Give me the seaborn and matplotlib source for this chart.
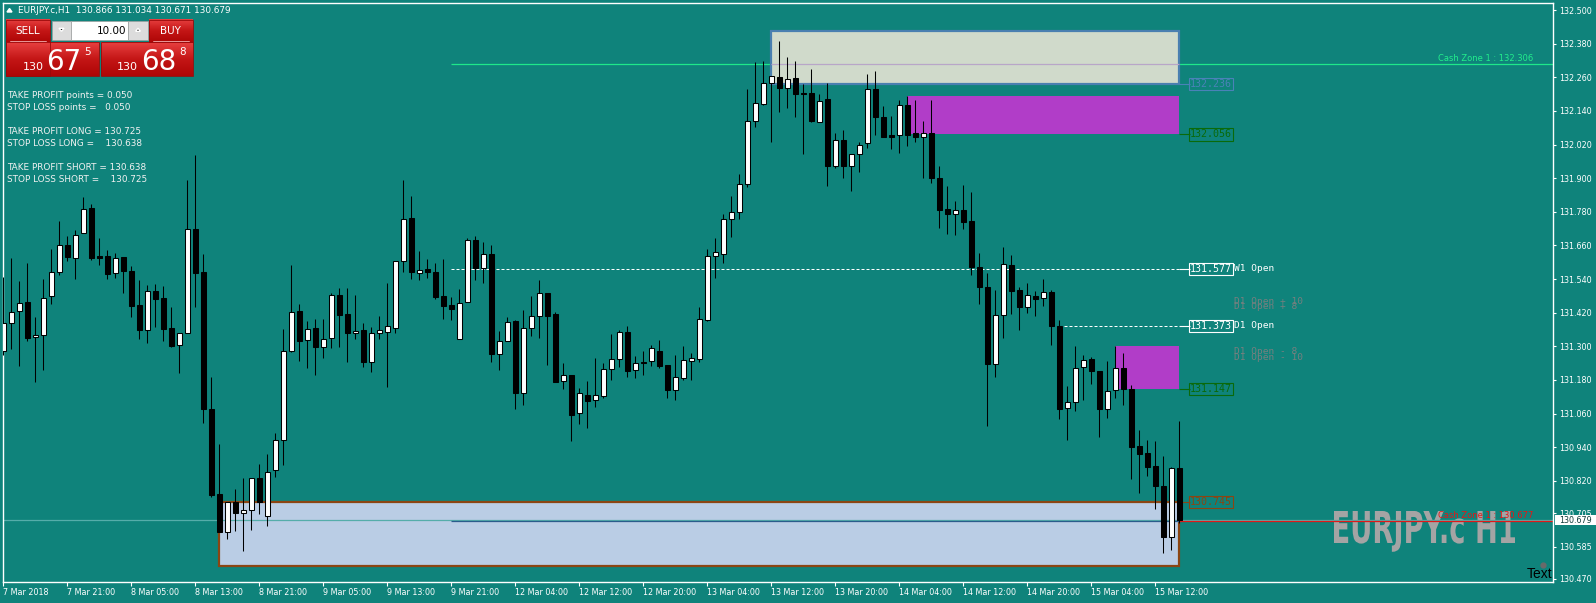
import numpy as np
import matplotlib
matplotlib.use("Agg")
import matplotlib.pyplot as plt
import seaborn as sns
from matplotlib.patches import Rectangle, PathPatch, Polygon
from matplotlib.textpath import TextPath
from matplotlib.font_manager import FontProperties
from matplotlib.transforms import Affine2D
from matplotlib.colors import LinearSegmentedColormap

symbol = "EURJPY.c"
period = "H1"

# hourly candles, 7 Mar 13:00 .. 15 Mar 15:00
open_ = [131.283, 131.385, 131.425, 131.457, 131.332, 131.342, 131.478, 131.564, 131.660, 131.617,
         131.706, 131.792, 131.621, 131.621, 131.560, 131.618, 131.568, 131.446, 131.360, 131.496,
         131.471, 131.364, 131.303, 131.346, 131.717, 131.564, 131.075, 130.772, 130.636, 130.743,
         130.704, 130.715, 130.829, 130.693, 130.857, 130.964, 131.285, 131.425, 131.321, 131.364,
         131.297, 131.328, 131.482, 131.415, 131.346, 131.357, 131.244, 131.346, 131.352, 131.364,
         131.603, 131.757, 131.562, 131.575, 131.565, 131.479, 131.447, 131.325, 131.457, 131.678,
         131.578, 131.631, 131.273, 131.320, 131.389, 131.134, 131.367, 131.407, 131.489, 131.414,
         131.175, 131.196, 131.061, 131.128, 131.107, 131.124, 131.218, 131.256, 131.350, 131.214,
         131.244, 131.248, 131.285, 131.235, 131.145, 131.188, 131.248, 131.256, 131.395, 131.624,
         131.631, 131.756, 131.778, 131.878, 132.103, 132.166, 132.238, 132.261, 132.223, 132.256,
         132.204, 132.204, 132.101, 132.182, 131.944, 132.036, 131.944, 131.985, 132.024, 132.220,
         132.118, 132.054, 132.053, 132.163, 132.060, 132.048, 132.060, 131.902, 131.790, 131.773,
         131.785, 131.746, 131.584, 131.511, 131.238, 131.411, 131.589, 131.500, 131.442, 131.480,
         131.472, 131.493, 131.374, 131.081, 131.100, 131.226, 131.254, 131.211, 131.078, 131.143,
         131.222, 131.147, 130.945, 130.920, 130.874, 130.802, 130.621, 130.866]
high = [131.548, 131.617, 131.533, 131.597, 131.405, 131.539, 131.647, 131.748, 131.693, 131.715,
        131.832, 131.807, 131.686, 131.644, 131.633, 131.620, 131.587, 131.536, 131.518, 131.521,
        131.517, 131.440, 131.346, 131.893, 131.982, 131.629, 131.189, 130.950, 130.746, 130.791,
        130.830, 130.831, 130.880, 130.916, 130.991, 131.361, 131.592, 131.451, 131.390, 131.397,
        131.397, 131.492, 131.507, 131.507, 131.483, 131.383, 131.370, 131.407, 131.526, 131.603,
        131.893, 131.836, 131.640, 131.611, 131.597, 131.611, 131.476, 131.504, 131.686, 131.693,
        131.672, 131.661, 131.354, 131.404, 131.394, 131.429, 131.479, 131.536, 131.492, 131.421,
        131.239, 131.196, 131.150, 131.176, 131.257, 131.239, 131.344, 131.357, 131.372, 131.264,
        131.283, 131.303, 131.321, 131.235, 131.269, 131.300, 131.275, 131.439, 131.649, 131.685,
        131.774, 131.838, 131.914, 132.220, 132.313, 132.320, 132.264, 132.389, 132.332, 132.320,
        132.236, 132.289, 132.202, 132.238, 132.061, 132.072, 131.985, 132.028, 132.271, 132.282,
        132.157, 132.122, 132.179, 132.193, 132.179, 132.104, 132.179, 131.943, 131.872, 131.819,
        131.876, 131.850, 131.633, 131.561, 131.501, 131.654, 131.626, 131.512, 131.526, 131.497,
        131.541, 131.500, 131.394, 131.158, 131.300, 131.268, 131.261, 131.211, 131.247, 131.300,
        131.275, 131.161, 131.001, 130.965, 130.962, 130.908, 130.869, 131.034]
low = [131.269, 131.290, 131.231, 131.320, 131.174, 131.216, 131.452, 131.554, 131.604, 131.541,
       131.703, 131.608, 131.591, 131.541, 131.545, 131.491, 131.405, 131.326, 131.313, 131.370,
       131.320, 131.298, 131.206, 131.346, 131.441, 131.027, 130.763, 130.636, 130.611, 130.642,
       130.571, 130.646, 130.700, 130.660, 130.835, 130.878, 131.281, 131.249, 131.222, 131.199,
       131.258, 131.295, 131.296, 131.245, 131.327, 131.227, 131.209, 131.327, 131.156, 131.346,
       131.566, 131.541, 131.537, 131.545, 131.470, 131.398, 131.394, 131.325, 131.457, 131.537,
       131.527, 131.245, 131.216, 131.320, 131.077, 131.092, 131.338, 131.331, 131.234, 131.174,
       131.149, 130.963, 131.024, 131.009, 131.084, 131.116, 131.181, 131.227, 131.191, 131.188,
       131.199, 131.231, 131.224, 131.116, 131.109, 131.181, 131.181, 131.245, 131.389, 131.545,
       131.596, 131.691, 131.756, 131.870, 132.084, 132.162, 132.030, 132.137, 132.150, 132.119,
       131.987, 132.101, 132.101, 131.873, 131.937, 131.902, 131.854, 131.923, 132.009, 132.054,
       132.048, 132.005, 131.991, 132.016, 132.030, 131.902, 131.884, 131.724, 131.701, 131.698,
       131.719, 131.555, 131.451, 131.016, 131.192, 131.331, 131.417, 131.360, 131.420, 131.410,
       131.445, 131.303, 131.042, 130.967, 131.071, 131.110, 131.167, 130.978, 131.046, 131.117,
       131.092, 130.825, 130.778, 130.839, 130.718, 130.561, 130.572, 130.671]
close = [131.385, 131.423, 131.455, 131.331, 131.339, 131.474, 131.564, 131.660, 131.620, 131.699,
         131.791, 131.616, 131.616, 131.559, 131.617, 131.570, 131.445, 131.359, 131.496, 131.470,
         131.363, 131.302, 131.346, 131.717, 131.562, 131.075, 130.771, 130.636, 130.746, 130.704,
         130.715, 130.831, 130.746, 130.850, 130.964, 131.285, 131.423, 131.320, 131.363, 131.296,
         131.327, 131.482, 131.413, 131.346, 131.353, 131.245, 131.346, 131.357, 131.371, 131.603,
         131.753, 131.566, 131.571, 131.566, 131.476, 131.445, 131.434, 131.453, 131.678, 131.578,
         131.631, 131.273, 131.320, 131.388, 131.134, 131.367, 131.407, 131.489, 131.410, 131.174,
         131.196, 131.056, 131.132, 131.106, 131.125, 131.218, 131.256, 131.350, 131.213, 131.239,
         131.242, 131.293, 131.231, 131.145, 131.191, 131.250, 131.257, 131.396, 131.624, 131.635,
         131.756, 131.778, 131.878, 132.103, 132.170, 132.238, 132.264, 132.221, 132.255, 132.201,
         132.201, 132.105, 132.177, 131.944, 132.038, 131.944, 131.985, 132.020, 132.220, 132.119,
         132.048, 132.048, 132.163, 132.055, 132.048, 132.060, 131.902, 131.788, 131.773, 131.785,
         131.745, 131.584, 131.510, 131.238, 131.411, 131.593, 131.499, 131.442, 131.482, 131.470,
         131.493, 131.374, 131.078, 131.100, 131.222, 131.253, 131.213, 131.078, 131.140, 131.222,
         131.146, 130.942, 130.917, 130.871, 130.800, 130.621, 130.865, 130.679]

time_labels = ["7 Mar 2018", "7 Mar 21:00", "8 Mar 05:00", "8 Mar 13:00", "8 Mar 21:00",
               "9 Mar 05:00", "9 Mar 13:00", "9 Mar 21:00", "12 Mar 04:00", "12 Mar 12:00",
               "12 Mar 20:00", "13 Mar 04:00", "13 Mar 12:00", "13 Mar 20:00", "14 Mar 04:00",
               "14 Mar 12:00", "14 Mar 20:00", "15 Mar 04:00", "15 Mar 12:00"]
label_step = 8

price_ticks = [132.500, 132.380, 132.260, 132.140, 132.020, 131.900, 131.780, 131.660, 131.540,
               131.420, 131.300, 131.180, 131.060, 130.940, 130.820, 130.705, 130.585, 130.470]

# supply / demand zones: start bar, top, bottom
zone_start = [96, 113, 139, 27]
zone_top = [132.425, 132.193, 131.301, 130.745]
zone_bottom = [132.236, 132.056, 131.147, 130.517]
zone_label = [132.236, 132.056, 131.147, 130.745]

cash_zone_up = 132.306
cash_zone_dn = 130.677
cash_start = 56
w1_open, w1_start = 131.577, 56
d1_open, d1_start = 131.373, 132
d1_offsets = [10, 8, -8, -10]

bid, ask = 130.675, 130.688
lot = 10.00
tp_points, sl_points = 0.050, 0.050
tp_long, sl_long = 130.725, 130.638
tp_short, sl_short = 130.638, 130.725

BG = "#0F837B"
sns.set_style("dark", rc={"axes.facecolor": BG, "figure.facecolor": BG,
                          "axes.edgecolor": "white", "xtick.color": "white",
                          "ytick.color": "white", "text.color": "white",
                          "axes.grid": False})
plt.rcParams["font.family"] = ["DejaVu Sans"]

W, H = 1596, 603
fig = plt.figure(figsize=(W / 100, H / 100), dpi=100)
ax = fig.add_axes([2.5 / W, (H - 582) / H, (1553 - 2.5) / W, (582 - 2.5) / H])

o, h, l, c = map(np.array, (open_, high, low, close))
n = len(c)
idx = np.arange(n)
last = n - 1
xmax = 193.7

# candles
ax.vlines(idx, l, h, color="black", lw=0.75, zorder=4)
lo, hi = np.minimum(o, c), np.maximum(o, c)
ht = np.maximum(hi - lo, 0.0025)
mid = (lo + hi) / 2
ax.bar(idx, ht, bottom=mid - ht / 2, width=0.58,
       color=np.where(c >= o, "white", "black"), edgecolor="black", linewidth=0.75, zorder=5)

# zones
zone_fc = ["#D0DACB", "#B13DC8", "#B13DC8", "#BACDE5"]
zone_ec = ["#4A7FB0", "none", "none", "#8B4513"]
for s, t, b, fc, ec in zip(zone_start, zone_top, zone_bottom, zone_fc, zone_ec):
    ax.add_patch(Rectangle((s, b), last - s, t - b, fc=fc, ec=ec, lw=1.6, zorder=1))

# cash zone lines
ax.hlines(cash_zone_up, cash_start, xmax, color="#1EE88A", lw=0.9, zorder=0.5)
ax.hlines(cash_zone_up, zone_start[0], last, color="#B8A6C8", lw=0.9, zorder=2)
ax.text(191.2, cash_zone_up + 0.004, f"Cash Zone 1 : {cash_zone_up:.3f}", color="#22EE8C",
        fontsize=6, ha="right", va="bottom", zorder=6)
ax.hlines(c[-1], 0, xmax, color="#55ADAA", lw=0.9, zorder=2)
ax.hlines(cash_zone_dn, cash_start, last, color="#2B5C8C", lw=0.9, zorder=2.1)
ax.hlines(cash_zone_dn, last, xmax, color="#E01818", lw=0.9, zorder=2.1)
ax.text(191.2, cash_zone_dn + 0.004, f"Cash Zone 1 : {cash_zone_dn:.3f}", color="#E81515",
        fontsize=6, ha="right", va="bottom", zorder=6)

# weekly / daily open
lab_x = 148.3
for val, start, name in [(w1_open, w1_start, "W1 Open"), (d1_open, d1_start, "D1 Open")]:
    ax.hlines(val, start, last, color="white", lw=0.72, linestyles=(0, (3, 2)), zorder=2)
    ax.hlines(val, last, lab_x, color="white", lw=0.8, zorder=2)
    ax.text(lab_x, val, f"{val:.3f}", color="white", fontsize=7.2, family="DejaVu Sans Mono",
            ha="left", va="center", zorder=6,
            bbox=dict(boxstyle="square,pad=0.12", fc="none", ec="white", lw=0.8))
    ax.text(153.8, val, name, color="white", fontsize=6.8, family="DejaVu Sans Mono",
            ha="left", va="center", zorder=6)
for off in d1_offsets:
    sign = "+" if off > 0 else "-"
    ax.text(153.8, d1_open + off / 100 - 0.012, f"D1 Open {sign} {abs(off)}", color="#76807F",
            fontsize=6.8, family="DejaVu Sans Mono", ha="left", va="center", zorder=6)

label_fc = ["#4A82B8", "#0A6A0A", "#0A6A0A", "#8B4513"]
for val, col in zip(zone_label, label_fc):
    ax.hlines(val, last, lab_x, color=col, lw=0.8, zorder=2)
    ax.text(lab_x, val, f"{val:.3f}", color=col, fontsize=7.2, family="DejaVu Sans Mono",
            ha="left", va="center", zorder=6,
            bbox=dict(boxstyle="square,pad=0.12", fc="none", ec=col, lw=0.8))

# watermark
fp = FontProperties(family="DejaVu Sans", weight="bold")
tp = TextPath((0, 0), f"{symbol} {period}", size=1, prop=fp)
cap = TextPath((0, 0), "E", size=1, prop=fp).get_extents()
bb = tp.get_extents()
sx = (1515 - 1334) / bb.width
sy = (543 - 511) / cap.height
tr = (Affine2D().translate(-bb.x0, 0).scale(sx, sy).translate(1334, H - 543)
      .scale(1 / W, 1 / H) + fig.transFigure)
ax.add_artist(PathPatch(tp, transform=tr, fc="#A4A4A4", ec="none", zorder=1.5))

# axes
ax.set_xlim(-0.125, xmax)
ax.set_ylim(130.459, 132.527)
for sp in ax.spines.values():
    sp.set_color("white")
    sp.set_linewidth(1)
ax.set_xticks(idx[::label_step][:len(time_labels)], labels=time_labels, ha="left")
ax.yaxis.tick_right()
ax.set_yticks(price_ticks, labels=[f"{v:.3f}" for v in price_ticks])
ax.tick_params(axis="x", bottom=True, direction="out", length=3, width=0.8, pad=1.5,
               labelsize=5.8, colors="white")
ax.tick_params(axis="y", right=True, left=False, direction="out", length=2.5, width=0.8,
               pad=2, labelsize=5.8, colors="white")

# current price tag
ytr = ax.get_yaxis_transform()
ax.add_patch(Rectangle((1.0012, c[-1] - 0.018), 0.03, 0.036, transform=ytr, fc="white",
                       ec="none", clip_on=False, zorder=6))
ax.text(1.004, c[-1], f"{c[-1]:.3f}", transform=ytr, color="#123C3A", fontsize=5.8,
        ha="left", va="center", clip_on=False, zorder=7)

# trade panel overlay (pixel coordinates)
ov = fig.add_axes([0, 0, 1, 1], zorder=10)
ov.axis("off")
red = LinearSegmentedColormap.from_list("red", ["#E84040", "#C41616", "#AE0606"])
grad = np.linspace(0, 1, 64).reshape(-1, 1)
for x0, y0, x1, y1 in [(6, 20, 49.5, 42.3), (6, 42.3, 99, 76), (149, 20, 192.7, 42.3),
                       (101, 42.3, 192.7, 76)]:
    ov.imshow(grad, extent=[x0, x1, y1, y0], cmap=red, aspect="auto", zorder=1)
ov.add_patch(Rectangle((6, 20), 43.5, 56, fill=False, ec="#9A0A0A", lw=0.6, zorder=2))
ov.add_patch(Rectangle((6, 42.3), 93, 33.7, fill=False, ec="#9A0A0A", lw=0.6, zorder=2))
ov.add_patch(Rectangle((101, 42.3), 91.7, 33.7, fill=False, ec="#9A0A0A", lw=0.6, zorder=2))
ov.add_patch(Rectangle((149, 20), 43.7, 22.3, fill=False, ec="#9A0A0A", lw=0.6, zorder=2))
ov.plot([10, 46], [41.3, 41.3], color="#F2B0B0", lw=0.6, zorder=3)
ov.plot([153, 189], [41.3, 41.3], color="#F2B0B0", lw=0.6, zorder=3)
ov.text(27.5, 31, "SELL", color="white", fontsize=7.5, ha="center", va="center", zorder=3)
ov.text(170, 31, "BUY", color="white", fontsize=7.5, ha="center", va="center", zorder=3)

ov.add_patch(Rectangle((51.7, 20.7), 19.3, 19.3, fc="#DCDCDC", ec="#A0A0A0", lw=0.5, zorder=2))
ov.add_patch(Rectangle((71, 20.7), 57.3, 19.3, fc="white", ec="#A0A0A0", lw=0.5, zorder=2))
ov.add_patch(Rectangle((128.3, 20.7), 19.4, 19.3, fc="#DCDCDC", ec="#A0A0A0", lw=0.5, zorder=2))
ov.add_patch(Polygon([(59, 28.3), (64, 28.3), (61.5, 31.3)], fc="black", zorder=3))
ov.add_patch(Polygon([(135.5, 31.3), (140.5, 31.3), (138, 28.3)], fc="black", zorder=3))
ov.text(126.5, 30.5, f"{lot:.2f}", color="black", fontsize=7.5, ha="right", va="center", zorder=3)

for price, xb, xm, xs in [(bid, 22.7, 46, 84.5), (ask, 116.7, 141, 179)]:
    s = f"{price:.3f}"
    ov.text(xb, 70, s[:3], color="white", fontsize=8, ha="left", va="baseline", zorder=3)
    ov.text(xm, 70, s[4:6], color="white", fontsize=20, ha="left", va="baseline", zorder=3)
    ov.text(xs, 55, s[6], color="white", fontsize=7.5, ha="left", va="baseline", zorder=3)

info = [f"TAKE PROFIT points = {tp_points:.3f}", f"STOP LOSS points =   {sl_points:.3f}", "",
        f"TAKE PROFIT LONG = {tp_long:.3f}", f"STOP LOSS LONG =    {sl_long:.3f}", "",
        f"TAKE PROFIT SHORT = {tp_short:.3f}", f"STOP LOSS SHORT =    {sl_short:.3f}"]
for k, line in enumerate(info):
    if line:
        ov.text(7.3, 96 + k * 11.95, line, color="#F2F2F2", fontsize=6.4, ha="left",
                va="center", zorder=3)

ov.add_patch(Polygon([(7, 12), (12, 12), (9.5, 8.5)], fc="white", zorder=3))
ov.text(18.3, 10.7, f"{symbol},{period}  {o[-1]:.3f} {h[-1]:.3f} {l[-1]:.3f} {c[-1]:.3f}",
        color="white", fontsize=6.4, ha="left", va="center", zorder=3)

ov.plot(1542.7, 565, marker="o", ms=3.5, color="#6A6A6A", zorder=3)
ov.text(1527, 573.5, "Text", color="black", fontsize=10, family=["Liberation Sans", "DejaVu Sans"],
        ha="left", va="center", zorder=3)

ov.set_xlim(0, W)
ov.set_ylim(H, 0)

fig.savefig("out.png", dpi=100, facecolor=BG)
